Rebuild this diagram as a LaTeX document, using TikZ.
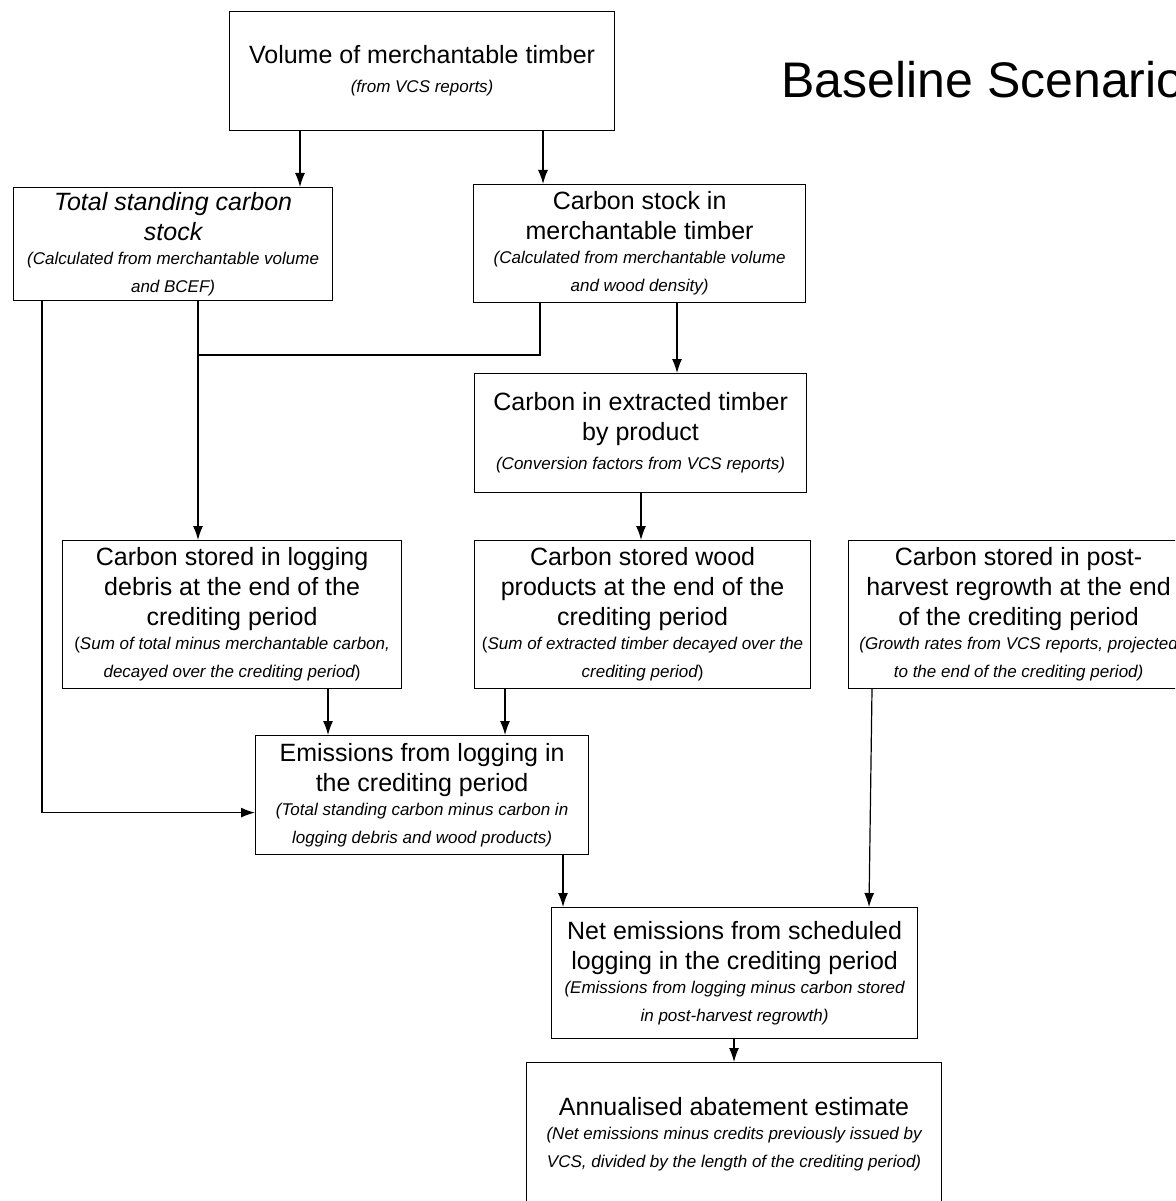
\documentclass[tikz,border=0pt]{standalone}
\usepackage{fontspec}
\setmainfont{Liberation Sans}
\usetikzlibrary{arrows.meta}

\newcommand\smalltxt{\fontsize{17}{24}\selectfont\itshape}

\begin{document}
\begin{tikzpicture}[x=1pt, y=-1pt, line width=1.2pt, >={Latex[length=14pt,width=10pt]},
  box/.style={draw, inner sep=0pt, anchor=north west, align=center, font=\fontsize{25}{24}\selectfont}]
  \fill[white] (0,0) rectangle (1175,1201);
  \useasboundingbox (0,0) rectangle (1175,1201);
  \clip (0,0) rectangle (1175,1201);

  \node[anchor=base west, inner sep=0pt, font=\fontsize{50}{60}\selectfont] (title) at (781,98) {Baseline Scenario};

  \node[box, minimum width=385pt, minimum height=119pt] (vol) at (229,11)
    {Volume of merchantable timber\\[5pt]{\smalltxt(from VCS reports)}};
  \node[box, minimum width=319pt, minimum height=113pt] (tot) at (13,187)
    {{\itshape Total standing carbon}\\[6pt]{\itshape stock}\\
     {\smalltxt(Calculated from merchantable volume}\\[4pt]{\smalltxt and BCEF)}};
  \node[box, minimum width=332pt, minimum height=118pt] (stock) at (473,184)
    {Carbon stock in\\[6pt]merchantable timber\\
     {\smalltxt(Calculated from merchantable volume}\\[4pt]{\smalltxt and wood density)}};
  \node[box, minimum width=332pt, minimum height=119pt] (extr) at (474,373)
    {Carbon in extracted timber\\[6pt]by product\\[5pt]
     {\smalltxt(Conversion factors from VCS reports)}};
  \node[box, minimum width=339pt, minimum height=148pt] (debris) at (62,540)
    {Carbon stored in logging\\[6pt]debris at the end of the\\[6pt]crediting period\\
     {\smalltxt\upshape(\itshape Sum of total minus merchantable carbon,}\\[4pt]
     {\smalltxt decayed over the crediting period\upshape)}};
  \node[box, minimum width=336pt, minimum height=148pt] (wood) at (474,540)
    {Carbon stored wood\\[6pt]products at the end of the\\[6pt]crediting period\\
     {\smalltxt\upshape(\itshape Sum of extracted timber decayed over the}\\[4pt]
     {\smalltxt crediting period\upshape)}};
  \node[box, minimum width=340pt, minimum height=148pt] (regrow) at (848,540)
    {Carbon stored in post-\\[6pt]harvest regrowth at the end\\[6pt]of the crediting period\\
     {\smalltxt(Growth rates from VCS reports, projected}\\[4pt]
     {\smalltxt to the end of the crediting period)}};
  \node[box, minimum width=333pt, minimum height=119pt] (emis) at (255,735)
    {Emissions from logging in\\[6pt]the crediting period\\
     {\smalltxt(Total standing carbon minus carbon in}\\[4pt]
     {\smalltxt logging debris and wood products)}};
  \node[box, minimum width=366pt, minimum height=131pt] (net) at (551,907)
    {Net emissions from scheduled\\[6pt]logging in the crediting period\\
     {\smalltxt(Emissions from logging minus carbon stored}\\[4pt]
     {\smalltxt in post-harvest regrowth)}};
  \node[box, minimum width=415pt, minimum height=144pt] (annual) at (526,1062)
    {Annualised abatement estimate\\
     {\smalltxt(Net emissions minus credits previously issued by}\\[4pt]
     {\smalltxt VCS, divided by the length of the crediting period)}};

  \coordinate (join) at (198,355);

  \path[->]
  ([xshift=71pt]vol.south west) edge ([xshift=287pt]tot.north west)
  ([xshift=314pt]vol.south west) edge ([xshift=70pt]stock.north west)
  ([xshift=204pt]stock.south west) edge ([xshift=203pt]extr.north west)
  ([xshift=167pt]extr.south west) edge ([xshift=167pt]wood.north west)
  ([xshift=266pt]debris.south west) edge ([xshift=73pt]emis.north west)
  ([xshift=31pt]wood.south west) edge ([xshift=250pt]emis.north west)
  ([xshift=308pt]emis.south west) edge ([xshift=12pt]net.north west)
  ([xshift=24pt]regrow.south west) edge ([xshift=318pt]net.north west)
  ([xshift=183pt]net.south west) edge ([xshift=208pt]annual.north west)
  ;
  \draw ([xshift=67pt]stock.south west) |- (join);
  \draw[->] ([xshift=185pt]tot.south west) -- (join) -- ([xshift=136pt]debris.north west);
  \draw[->] ([xshift=29pt]tot.south west) |- ([yshift=-17.5pt]emis.west);
\end{tikzpicture}
\end{document}
